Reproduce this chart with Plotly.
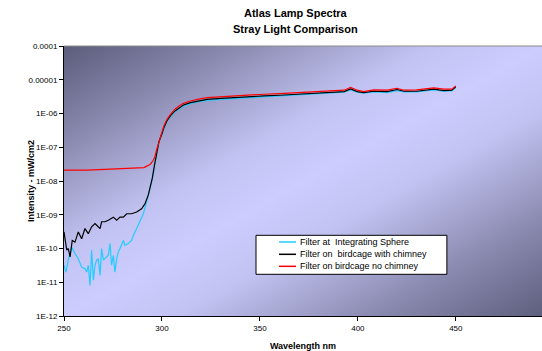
import numpy as np
import plotly.graph_objects as go

# ---------------- data ----------------
sphere_nm = [250, 251, 252.2, 253.9, 255.6, 257.3, 259, 260.7, 261.6, 262.4, 263.3, 264.1, 265, 265.8,
             266.7, 267.5, 268.4, 269.2, 270.1, 271.8, 272.6, 273.5, 274.3, 275.2, 276, 276.9, 277.7,
             278.6, 280.3, 281.1, 282.8, 284.5, 285.4, 287.1, 288.8, 290.5, 292.2, 293.9, 295.1,
             296.3, 297.4, 298.5, 300, 301, 302.5, 304.4, 306.5, 308.7, 311, 314.6, 318, 323, 330,
             335, 345, 352, 360, 369, 378, 386, 393, 396.3, 399.7, 403, 408, 415, 420, 423.5, 430,
             438.8, 443.9, 448, 450]
sphere_val = [3.2e-11, 2.0e-11, 4.5e-11, 1.1e-10, 7.1e-11, 5.0e-11, 2.8e-11, 2.5e-11, 2.0e-11, 3.2e-11,
              8.1e-12, 8.9e-11, 1.15e-11, 3.2e-11, 4.5e-11, 5.0e-11, 1.6e-11, 1.0e-10, 4.5e-11, 5.6e-11,
              6.3e-11, 1.4e-10, 3.2e-11, 6.3e-11, 2.0e-11, 5.0e-11, 7.9e-11, 1.0e-10, 1.74e-10, 1.23e-10,
              1.4e-10, 1.74e-10, 2.45e-10, 3.9e-10, 6.2e-10, 1.07e-9, 2.4e-9, 6.6e-9, 1.12e-8,
              3.0e-8, 7.1e-8, 1.38e-7, 2.34e-7, 3.55e-7, 5.6e-7, 8.1e-7, 1.1e-6, 1.38e-6, 1.66e-6,
              1.95e-6, 2.19e-6, 2.45e-6, 2.63e-6, 2.75e-6, 2.95e-6, 3.09e-6, 3.31e-6, 3.55e-6, 3.72e-6,
              3.98e-6, 4.27e-6, 5.0e-6, 4.27e-6, 3.98e-6, 4.37e-6, 4.17e-6, 4.79e-6, 4.37e-6, 4.37e-6,
              5.0e-6, 4.57e-6, 4.68e-6, 5.9e-6]

chimney_nm = [250, 251.4, 252.2, 253.1, 254.2, 255.6, 257.3, 259, 260.7, 262.4, 264.1, 265.8, 266.7,
              268.4, 269.2, 270.9, 272.6, 275.2, 276.9, 278.6, 280.3, 282, 284.5, 287.1, 289.6, 291.3,
              293, 294.2, 295.1, 296.3, 297.4, 298.5, 300, 301, 302.5, 304.4, 306.5, 308.7, 311, 314.6,
              318, 323, 330, 335, 345, 352, 360, 369, 378, 386, 393, 396.3, 399.7, 403, 408, 415, 420,
              423.5, 430, 438.8, 443.9, 448, 450]
chimney_val = [3.1e-10, 8.9e-11, 1.0e-10, 5.6e-11, 1.74e-10, 1.55e-10, 3.1e-10, 1.95e-10, 3.9e-10,
               2.75e-10, 4.4e-10, 5.5e-10, 4.9e-10, 3.9e-10, 6.2e-10, 6.2e-10, 6.9e-10, 8.5e-10, 6.9e-10,
               8.5e-10, 8.5e-10, 1.07e-9, 1.07e-9, 1.2e-9, 1.5e-9, 2.1e-9, 3.8e-9, 7.4e-9, 1.23e-8,
               3.2e-8, 7.6e-8, 1.48e-7, 2.5e-7, 3.8e-7, 6.0e-7, 8.7e-7, 1.17e-6, 1.48e-6, 1.78e-6,
               2.09e-6, 2.34e-6, 2.63e-6, 2.82e-6, 2.95e-6, 3.16e-6, 3.31e-6, 3.47e-6, 3.72e-6, 3.89e-6,
               4.17e-6, 4.47e-6, 5.37e-6, 4.47e-6, 4.17e-6, 4.57e-6, 4.47e-6, 5.13e-6, 4.57e-6, 4.57e-6,
               5.25e-6, 4.79e-6, 4.9e-6, 6.2e-6]

nochimney_nm = [250, 254, 258, 262, 266, 270, 274, 278, 282, 286, 289, 290.8, 292.5, 294.2, 295.3,
                296.3, 297.4, 298.5, 300, 301, 302.5, 304.4, 306.5, 308.7, 311, 314.6, 318, 323, 330,
                335, 345, 352, 360, 369, 378, 386, 393, 396.3, 399.7, 403, 408, 415, 420, 423.5, 430,
                438.8, 443.9, 448, 450]
nochimney_val = [2.1e-8, 2.15e-8, 2.1e-8, 2.1e-8, 2.15e-8, 2.1e-8, 2.2e-8, 2.25e-8, 2.3e-8, 2.4e-8,
                 2.45e-8, 2.5e-8, 2.8e-8, 3.2e-8, 3.9e-8, 5.0e-8, 8.9e-8, 1.55e-7, 2.8e-7, 4.3e-7,
                 6.6e-7, 9.5e-7, 1.32e-6, 1.66e-6, 2.0e-6, 2.34e-6, 2.63e-6, 2.95e-6, 3.16e-6, 3.31e-6,
                 3.55e-6, 3.72e-6, 3.89e-6, 4.17e-6, 4.37e-6, 4.68e-6, 4.9e-6, 5.9e-6, 4.9e-6, 4.47e-6,
                 5.0e-6, 4.9e-6, 5.6e-6, 4.9e-6, 5.0e-6, 5.75e-6, 5.25e-6, 5.25e-6, 6.6e-6]

series_names = ["Filter at  Integrating Sphere",
                "Filter on  birdcage with chimney",
                "Filter on birdcage no chimney"]
series_colors = ["#22ccff", "#000000", "#ff0000"]

title_lines = ["Atlas Lamp Spectra", "Stray Light Comparison"]
y_title = "Intensity - mW/cm2"
x_title = "Wavelength nm"
x_ticks = [250, 300, 350, 400, 450]
y_tickvals = [1e-4, 1e-5, 1e-6, 1e-7, 1e-8, 1e-9, 1e-10, 1e-11, 1e-12]
y_ticktext = ["0.0001", "0.00001", "1E-06", "1E-07", "1E-08", "1E-09", "1E-10", "1E-11", "1E-12"]

FONT = "Liberation Sans, Arial, sans-serif"

# ------------- background gradient (decoration) -------------
gx = np.linspace(0, 1, 80)
gy = np.linspace(0, 1, 60)
U, V = np.meshgrid(gx, gy)
T = (U - V + 1) / 2.0

fig = go.Figure()
fig.add_trace(go.Heatmap(
    x=gx, y=gy, z=T, zmin=0, zmax=1, zsmooth="best", showscale=False, hoverinfo="skip",
    colorscale=[[0, "#5c5c7c"], [0.18, "#8a8ab0"], [0.38, "#c2c2f2"], [0.5, "#ccccff"],
                [0.62, "#c2c2f2"], [0.82, "#8a8ab0"], [1, "#5e5e7e"]],
    xaxis="x", yaxis="y", showlegend=False))

series = [(sphere_nm, sphere_val), (chimney_nm, chimney_val), (nochimney_nm, nochimney_val)]
for (nm, val), name, col in zip(series, series_names, series_colors):
    fig.add_trace(go.Scatter(x=nm, y=val, mode="lines", name=name,
                             line=dict(color=col, width=1.2),
                             xaxis="x2", yaxis="y2", showlegend=False))

# ------------- legend box (drawn manually for compact rows) -------------
shapes = [
    dict(type="line", xref="paper", yref="paper", x0=0, x1=1, y0=1, y1=1,
         line=dict(color="#8a8a8a", width=1)),
    dict(type="rect", xref="paper", yref="paper", x0=0.4017, x1=0.801, y0=0.1544, y1=0.2989,
         fillcolor="white", line=dict(color="black", width=1)),
]
annotations = []
row_y = [0.274, 0.2285, 0.184]
for name, col, ry in zip(series_names, series_colors, row_y):
    shapes.append(dict(type="line", xref="paper", yref="paper", x0=0.4498, x1=0.4854, y0=ry, y1=ry,
                       line=dict(color=col, width=1.5)))
    annotations.append(dict(text=name.replace("  ", "&nbsp; "), xref="paper", yref="paper",
                            x=0.4895, y=ry, xanchor="left", yanchor="middle", showarrow=False,
                            font=dict(size=9, family=FONT, color="black")))

annotations.append(dict(text="<b>%s</b>" % title_lines[0], xref="paper", yref="paper", x=0.485, y=1.121,
                        xanchor="center", yanchor="middle", showarrow=False,
                        font=dict(size=11, family=FONT, color="black")))
annotations.append(dict(text="<b>%s</b>" % title_lines[1], xref="paper", yref="paper", x=0.485, y=1.062,
                        xanchor="center", yanchor="middle", showarrow=False,
                        font=dict(size=11, family=FONT, color="black")))
annotations.append(dict(text="<b>%s</b>" % y_title, xref="paper", yref="paper", x=-0.069, y=0.5,
                        xanchor="center", yanchor="middle", textangle=-90, showarrow=False,
                        font=dict(size=9, family=FONT, color="black")))

fig.update_layout(
    width=542, height=351,
    margin=dict(l=64, r=0, t=46, b=35),
    paper_bgcolor="white", plot_bgcolor="white",
    font=dict(family=FONT, color="black"),
    showlegend=False,
    xaxis=dict(range=[0, 1], visible=False, domain=[0, 1], automargin=False),
    yaxis=dict(range=[0, 1], visible=False, domain=[0, 1], automargin=False),
    xaxis2=dict(overlaying="x", anchor="y2", range=[250, 494], tickvals=x_ticks,
                ticks="outside", ticklen=4, tickcolor="black", showline=True, linecolor="black",
                linewidth=1, showgrid=False, zeroline=False, automargin=False,
                tickfont=dict(size=8, family=FONT),
                title=dict(text="<b>%s</b>" % x_title, font=dict(size=9, family=FONT), standoff=11)),
    yaxis2=dict(overlaying="y", anchor="x2", type="log", range=[-12, -4],
                tickvals=y_tickvals, ticktext=y_ticktext,
                ticks="outside", ticklen=4, tickcolor="black", showline=True, linecolor="black",
                linewidth=1, showgrid=False, zeroline=False, automargin=False,
                tickfont=dict(size=8, family=FONT)),
    shapes=shapes,
    annotations=annotations,
)

fig.write_html("out.html", config={"displayModeBar": False},
               post_script="document.body.style.margin='0';document.body.style.overflow='hidden';")
